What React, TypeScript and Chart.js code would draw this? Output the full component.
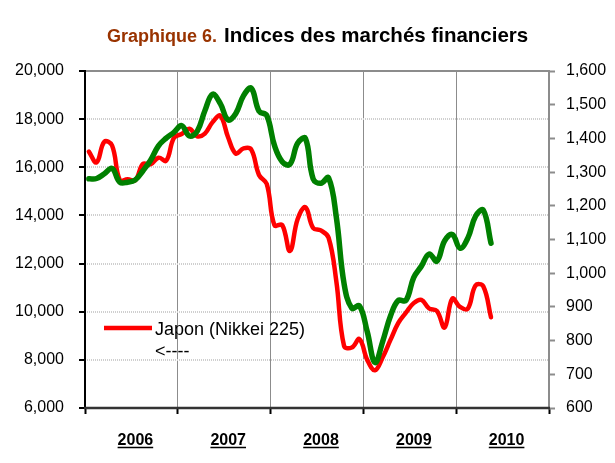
import React, { useEffect, useRef } from "react";
import { Chart, registerables } from "chart.js";

Chart.register(...registerables);

const months = [
  "2006-01", "2006-02", "2006-03", "2006-04", "2006-05", "2006-06", "2006-07", "2006-08", "2006-09", "2006-10", "2006-11", "2006-12",
  "2007-01", "2007-02", "2007-03", "2007-04", "2007-05", "2007-06", "2007-07", "2007-08", "2007-09", "2007-10", "2007-11", "2007-12",
  "2008-01", "2008-02", "2008-03", "2008-04", "2008-05", "2008-06", "2008-07", "2008-08", "2008-09", "2008-10", "2008-11", "2008-12",
  "2009-01", "2009-02", "2009-03", "2009-04", "2009-05", "2009-06", "2009-07", "2009-08", "2009-09", "2009-10", "2009-11", "2009-12",
  "2010-01", "2010-02", "2010-03", "2010-04", "2010-05",
];

// Japon (Nikkei 225), left axis
const nikkei225 = [
  16650, 16205, 17060, 16906, 15467, 15505, 15457, 16140, 16128, 16399, 16274, 17226,
  17383, 17604, 17288, 17400, 17876, 18138, 17248, 16569, 16786, 16737, 15681, 15308,
  13592, 13603, 12526, 13850, 14338, 13481, 13377, 13073, 11260, 8577, 8512, 8860,
  7994, 7568, 8110, 8828, 9523, 9958, 10357, 10493, 10133, 10035, 9346, 10546,
  10198, 10126, 11090, 11057, 9769,
];

// Green series, right axis
const sp500 = [
  1280, 1281, 1295, 1311, 1270, 1270, 1277, 1304, 1336, 1378, 1401, 1418,
  1438, 1407, 1421, 1482, 1531, 1503, 1455, 1474, 1527, 1549, 1481, 1468,
  1379, 1331, 1323, 1386, 1400, 1280, 1267, 1283, 1166, 969, 896, 903,
  826, 735, 798, 873, 919, 919, 987, 1021, 1057, 1036, 1096, 1115,
  1074, 1104, 1169, 1187, 1089,
];

const leftTicks = [6000, 8000, 10000, 12000, 14000, 16000, 18000, 20000];
const rightTicks = [600, 700, 800, 900, 1000, 1100, 1200, 1300, 1400, 1500, 1600];
const years = ["2006", "2007", "2008", "2009", "2010"];
const yearStarts = [0, 12, 24, 36, 48, 60];

const titlePrefix = "Graphique 6.";
const titleMain = "Indices des marchés financiers";
const legendLabel = "Japon (Nikkei 225)";
const legendArrow = "<----";

const FONT = '"Liberation Sans", Arial, Helvetica, sans-serif';

const monthToX = (m: string) => {
  const [y, mo] = m.split("-").map(Number);
  return (y - 2006) * 12 + (mo - 1) + 0.5;
};

const fmt = (v: number) => v.toLocaleString("en-US");

const decorPlugin = {
  id: "decor",
  beforeDatasetsDraw(chart: any) {
    const { ctx, chartArea } = chart;
    const { left, right, top, bottom } = chartArea;
    ctx.save();
    ctx.lineCap = "butt";
    ctx.strokeStyle = "#8c8c8c";
    ctx.lineWidth = 2;
    ctx.beginPath();
    ctx.moveTo(left, top);
    ctx.lineTo(right, top);
    ctx.moveTo(right, top - 1);
    ctx.lineTo(right, bottom);
    ctx.stroke();
    ctx.strokeStyle = "#000";
    ctx.beginPath();
    ctx.moveTo(left, top - 1);
    ctx.lineTo(left, bottom);
    ctx.stroke();
    ctx.strokeStyle = "#333";
    ctx.lineWidth = 2.5;
    ctx.beginPath();
    ctx.moveTo(left - 1, bottom);
    ctx.lineTo(right + 1, bottom);
    ctx.stroke();
    ctx.restore();
  },
  afterDraw(chart: any) {
    const { ctx } = chart;
    const xs = chart.scales.x;
    ctx.save();
    // Title
    ctx.textBaseline = "alphabetic";
    ctx.textAlign = "left";
    ctx.fillStyle = "#993300";
    ctx.font = `bold 18px ${FONT}`;
    ctx.fillText(titlePrefix, 107, 42);
    ctx.fillStyle = "#000";
    ctx.font = `bold 20.5px ${FONT}`;
    ctx.fillText(titleMain, 224, 42);

    // Year labels (bold, underlined)
    ctx.font = `bold 16px ${FONT}`;
    ctx.textAlign = "center";
    ctx.fillStyle = "#000";
    ctx.strokeStyle = "#000";
    ctx.lineWidth = 1.5;
    years.forEach((yr, i) => {
      const cx = xs.getPixelForValue(yearStarts[i] + 6) + 4;
      ctx.fillText(yr, cx, 445);
      const w = ctx.measureText(yr).width;
      ctx.beginPath();
      ctx.moveTo(cx - w / 2, 447.5);
      ctx.lineTo(cx + w / 2, 447.5);
      ctx.stroke();
    });

    // Legend
    ctx.strokeStyle = "#ff0000";
    ctx.lineWidth = 4.5;
    ctx.lineCap = "butt";
    ctx.beginPath();
    ctx.moveTo(104, 328);
    ctx.lineTo(152, 328);
    ctx.stroke();
    ctx.textAlign = "left";
    ctx.font = `18px ${FONT}`;
    ctx.fillStyle = "#000";
    ctx.fillText(legendLabel, 155, 334.5);
    ctx.fillText(legendArrow, 155, 357);
    ctx.restore();
  },
};

export default function App() {
  const canvasRef = useRef<HTMLCanvasElement | null>(null);

  useEffect(() => {
    const canvas = canvasRef.current;
    if (!canvas) return;
    const xs = months.map(monthToX);

    const chart = new Chart(canvas, {
      type: "line",
      data: {
        datasets: [
          {
            label: "S&P 500",
            data: sp500.map((v, i) => ({ x: xs[i], y: v })),
            yAxisID: "y1",
            borderColor: "#008000",
            borderWidth: 5.5,
            pointRadius: 0,
            tension: 0.4,
            fill: false,
            borderCapStyle: "round",
            borderJoinStyle: "round",
            order: 0,
          },
          {
            label: legendLabel,
            data: nikkei225.map((v, i) => ({ x: xs[i], y: v })),
            yAxisID: "y",
            borderColor: "#ff0000",
            borderWidth: 4.5,
            pointRadius: 0,
            tension: 0.4,
            fill: false,
            borderCapStyle: "round",
            borderJoinStyle: "round",
            order: 1,
          },
        ],
      },
      options: {
        responsive: false,
        animation: false,
        devicePixelRatio: 1,
        layout: { padding: { top: 71, left: 0, right: 0, bottom: 0 } },
        plugins: {
          legend: { display: false },
          title: { display: false },
          tooltip: { enabled: false },
        },
        scales: {
          x: {
            type: "linear",
            min: 0,
            max: 60,
            afterBuildTicks: (s: any) => {
              s.ticks = yearStarts.map((v) => ({ value: v }));
            },
            afterFit: (s: any) => {
              s.height = 55;
            },
            ticks: { display: false },
            grid: {
              color: (c: any) =>
                c.tick && (c.tick.value === 0 || c.tick.value === 60) ? "rgba(0,0,0,0)" : "#8c8c8c",
              lineWidth: 1,
              tickColor: "#000",
              tickLength: 6,
              tickWidth: 2,
            },
            border: { display: false },
          },
          y: {
            type: "linear",
            position: "left",
            min: 6000,
            max: 20000,
            afterBuildTicks: (s: any) => {
              s.ticks = leftTicks.map((v) => ({ value: v }));
            },
            afterFit: (s: any) => {
              s.width = 85;
            },
            ticks: {
              callback: (v: any) => fmt(Number(v)),
              color: "#000",
              font: { family: FONT, size: 16 },
              padding: 15,
            },
            grid: {
              color: (c: any) =>
                c.tick && (c.tick.value === 6000 || c.tick.value === 20000) ? "rgba(0,0,0,0)" : "#cfcfcf",
              lineWidth: 2,
              tickColor: "#000",
              tickLength: 6,
              tickWidth: 2,
            },
            border: { display: false, dash: [1, 1] },
          },
          y1: {
            type: "linear",
            position: "right",
            min: 600,
            max: 1600,
            afterBuildTicks: (s: any) => {
              s.ticks = rightTicks.map((v) => ({ value: v }));
            },
            afterFit: (s: any) => {
              s.width = 66;
            },
            ticks: {
              callback: (v: any) => fmt(Number(v)),
              color: "#000",
              font: { family: FONT, size: 16 },
              padding: 11,
            },
            grid: {
              drawOnChartArea: false,
              color: "#8c8c8c",
              tickColor: "#8c8c8c",
              tickLength: 6,
              tickWidth: 2,
            },
            border: { display: false },
          },
        },
      },
      plugins: [decorPlugin],
    } as any);

    return () => chart.destroy();
  }, []);

  return (
    <div style={{ position: "absolute", left: 0, top: 0, width: 615, height: 463, background: "#fff" }}>
      <canvas ref={canvasRef} width={615} height={463} />
    </div>
  );
}
